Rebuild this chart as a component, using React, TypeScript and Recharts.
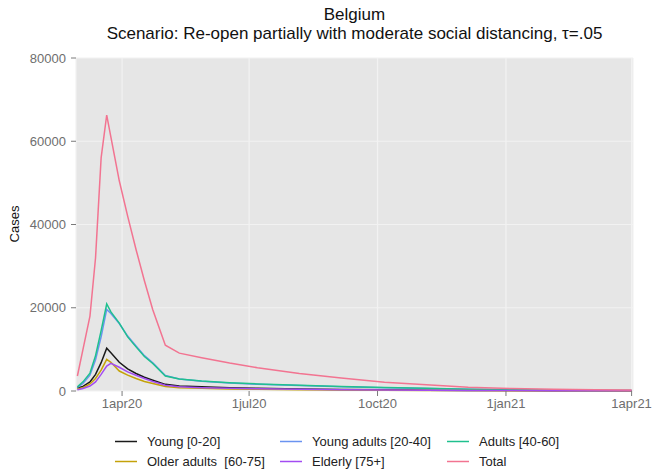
import { LineChart, Line, XAxis, YAxis, CartesianGrid } from 'recharts'

// days counted from 1 Mar 2020
const days = [-1, 3, 8, 12, 16, 20, 23, 29, 35, 41, 47, 53, 62, 72, 88, 108, 128, 158, 188, 219, 249, 279, 310, 340, 370, 396]

const young = [700, 1100, 2200, 4000, 6800, 10300, 9200, 6900, 5300, 4200, 3300, 2600, 1600, 1200, 1000, 800, 650, 500, 380, 280, 200, 150, 100, 80, 60, 50]
const youngAdults = [900, 1800, 3800, 7500, 13000, 19600, 18600, 16200, 13200, 10800, 8500, 6800, 3700, 2900, 2350, 1900, 1600, 1300, 1000, 800, 600, 420, 280, 190, 140, 100]
const adults = [1000, 2200, 4300, 8500, 14500, 20900, 19000, 16300, 13000, 10600, 8300, 6600, 3600, 2900, 2400, 2000, 1700, 1400, 1100, 850, 650, 450, 300, 200, 150, 100]
const olderAdults = [500, 800, 1700, 3000, 5000, 7600, 6900, 4800, 3800, 3000, 2300, 1800, 1100, 800, 650, 500, 420, 330, 250, 190, 140, 100, 70, 50, 40, 30]
const elderly = [300, 600, 1200, 2200, 4000, 6000, 6650, 5700, 4600, 3800, 3000, 2300, 1400, 1000, 800, 650, 550, 430, 330, 250, 190, 140, 100, 70, 50, 40]
const total = [3600, 10000, 18000, 32000, 56000, 66300, 61000, 50500, 42000, 34000, 26500, 19500, 11000, 9100, 8000, 6700, 5600, 4200, 3100, 2100, 1500, 900, 600, 400, 300, 220]

const xTicks = [31, 122, 214, 306, 396]
const xTickLabels = ['1apr20', '1jul20', '1oct20', '1jan21', '1apr21']
const yTicks = [0, 20000, 40000, 60000, 80000]

const series = [
  { key: 'young', name: 'Young [0-20]', color: '#1a1a1a' },
  { key: 'youngAdults', name: 'Young adults [20-40]', color: '#6a93f0' },
  { key: 'adults', name: 'Adults [40-60]', color: '#1fc08e' },
  { key: 'olderAdults', name: 'Older adults  [60-75]', color: '#c4a20a' },
  { key: 'elderly', name: 'Elderly [75+]', color: '#a34cf2' },
  { key: 'total', name: 'Total', color: '#f27491' },
]

const data = days.map((day, i) => ({
  day,
  young: young[i],
  youngAdults: youngAdults[i],
  adults: adults[i],
  olderAdults: olderAdults[i],
  elderly: elderly[i],
  total: total[i],
}))

const font = '"Liberation Sans", Arial, sans-serif'
const tickStyle = { fill: '#6e6e6e', fontSize: 13, fontFamily: font }

function LegendBlock() {
  const keyX = [115, 280, 447]
  return (
    <div style={{ position: 'absolute', left: 0, top: 434, width: 652, height: 40 }}>
      {series.map((s, i) => {
        const row = Math.floor(i / 3)
        return (
          <div
            key={s.key}
            style={{
              position: 'absolute',
              left: keyX[i % 3],
              top: row * 20,
              height: 15,
              display: 'flex',
              alignItems: 'center',
              fontFamily: font,
              fontSize: 13,
              color: '#222',
              whiteSpace: 'pre',
            }}
          >
            <svg width={22} height={15} style={{ marginRight: 10 }}>
              <line x1={0} x2={22} y1={7.5} y2={7.5} stroke={s.color} strokeWidth={1.5} />
            </svg>
            {s.name}
          </div>
        )
      })}
    </div>
  )
}

export default function App() {
  return (
    <div style={{ position: 'absolute', left: 0, top: 0, width: 652, height: 475, background: '#fff' }}>
      <div style={{ position: 'absolute', left: 76, width: 557, top: 5, textAlign: 'center', fontFamily: font, fontSize: 17, color: '#111', lineHeight: '19px' }}>
        <div>Belgium</div>
        <div>Scenario: Re-open partially with moderate social distancing, τ=.05</div>
      </div>
      <div
        style={{
          position: 'absolute',
          left: 14,
          top: 224,
          transform: 'translate(-50%, -50%) rotate(-90deg)',
          fontFamily: font,
          fontSize: 13,
          color: '#111',
        }}
      >
        Cases
      </div>
      <LineChart width={652} height={475} data={data} margin={{ top: 58, right: 19, bottom: 54, left: 0 }} style={{ position: 'absolute', left: 0, top: 0 }}>
        <CartesianGrid fill="#e6e6e6" stroke="#f2f2f2" strokeWidth={1.2} />
        <XAxis
          dataKey="day"
          type="number"
          domain={[-2, 397]}
          ticks={xTicks}
          tickFormatter={(v) => xTickLabels[xTicks.indexOf(v)]}
          tick={tickStyle}
          tickSize={5}
          tickMargin={3}
          tickLine={{ stroke: '#7a7a7a' }}
          axisLine={false}
          height={30}
          allowDataOverflow
        />
        <YAxis
          domain={[0, 80000]}
          ticks={yTicks}
          tick={tickStyle}
          tickSize={5}
          tickMargin={5}
          tickLine={{ stroke: '#7a7a7a' }}
          axisLine={false}
          width={76}
        />
        {series.map((s) => (
          <Line
            key={s.key}
            type="linear"
            dataKey={s.key}
            name={s.name}
            stroke={s.color}
            strokeWidth={1.5}
            dot={false}
            isAnimationActive={false}
          />
        ))}
      </LineChart>
      <LegendBlock />
    </div>
  )
}
